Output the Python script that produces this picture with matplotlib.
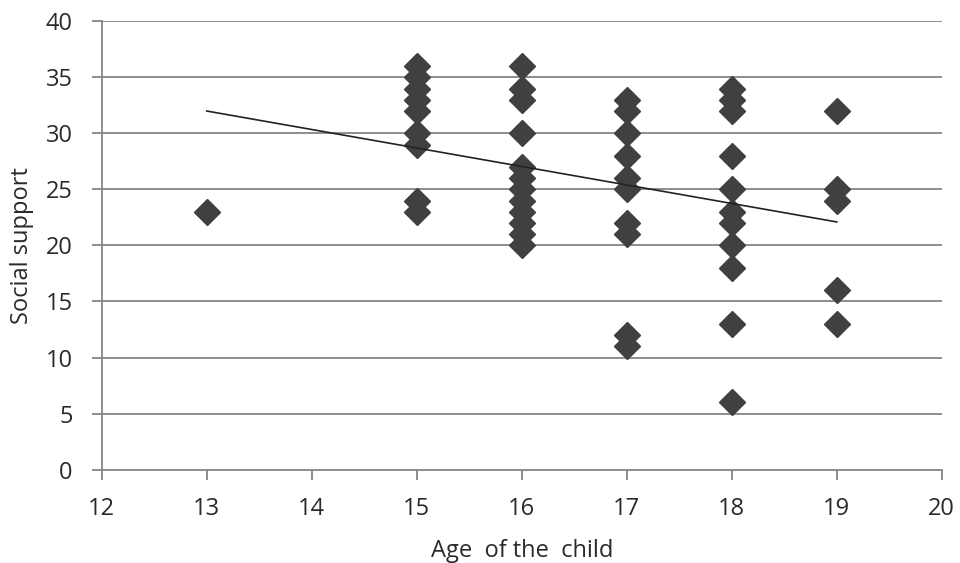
import numpy as np
import matplotlib
matplotlib.use("Agg")
import matplotlib.pyplot as plt

age_13 = [23]
age_15 = [36, 35, 34, 33, 32, 30, 29, 24, 23]
age_16 = [36, 34, 33, 30, 27, 26, 25, 24, 23, 22, 21, 20]
age_17 = [33, 32, 30, 28, 26, 25, 22, 21, 12, 11]
age_18 = [34, 33, 32, 28, 25, 23, 22, 20, 18, 13, 6]
age_19 = [32, 25, 24, 16, 13]

# linear trend line as drawn in the reference (value at age 13 and at age 19)
trend_ages = [13, 19]
trend_values = [32.0, 22.1]

xticks = [12, 13, 14, 15, 16, 17, 18, 19, 20]
yticks = [0, 5, 10, 15, 20, 25, 30, 35, 40]

groups = {13: age_13, 15: age_15, 16: age_16, 17: age_17, 18: age_18, 19: age_19}
x = np.concatenate([[k] * len(v) for k, v in groups.items()]).astype(float)
y = np.concatenate([v for v in groups.values()]).astype(float)

plt.rcParams['font.family'] = ['Open Sans', 'DejaVu Sans']

fig = plt.figure(figsize=(9.6, 5.63), dpi=100)
ax = fig.add_axes([0.106, 0.166, 0.875, 0.796])

gc = '#858585'
for t in yticks[1:]:
    ax.axhline(t, color=gc, lw=1.3, zorder=0)

ax.plot(x, y, linestyle='none', marker='D', ms=13, color='#404040', mec='#404040', zorder=3)
ax.plot(trend_ages, trend_values, color='#222222', lw=1.2, zorder=4)

ax.set_xlim(12, 20)
ax.set_ylim(0, 40)
ax.set_xticks(xticks)
ax.set_yticks(yticks)
for s in ['top', 'right']:
    ax.spines[s].set_visible(False)
for s in ['left', 'bottom']:
    ax.spines[s].set_color(gc)
    ax.spines[s].set_linewidth(1.3)
ax.tick_params(axis='both', direction='out', length=7, width=1.3, color=gc,
               labelsize=17, labelcolor='#2a2a2a')
ax.tick_params(axis='x', pad=13)
ax.tick_params(axis='y', pad=14)
ax.set_xlabel('Age  of the  child', fontsize=17, color='#2a2a2a', labelpad=13)
ax.set_ylabel('Social support', fontsize=17, color='#2a2a2a', labelpad=8)

fig.savefig('out.png', dpi=100)
